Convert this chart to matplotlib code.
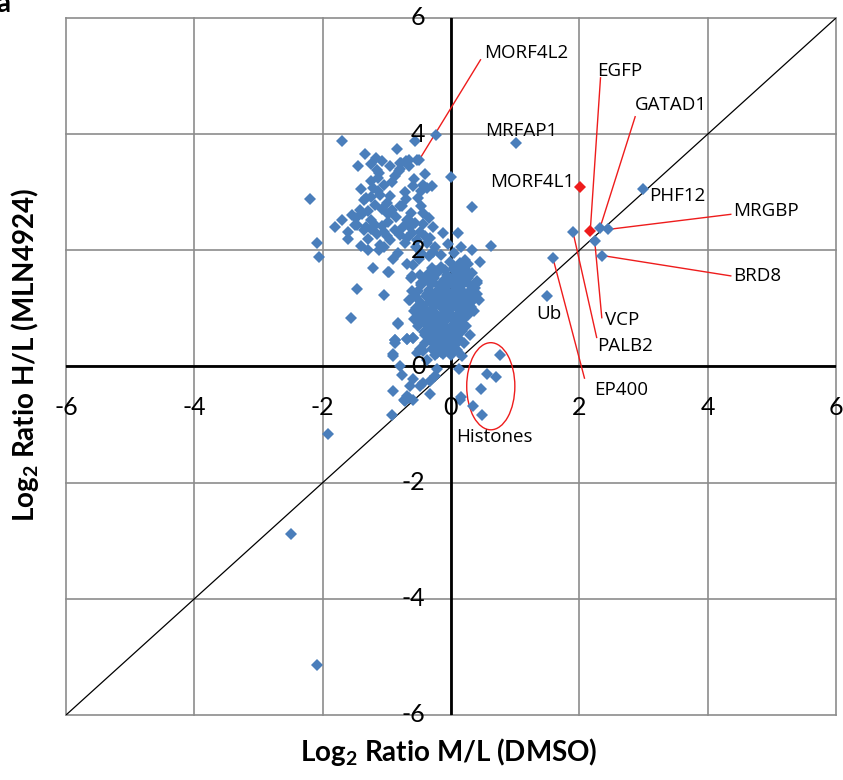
import matplotlib.pyplot as plt
from matplotlib.patches import Ellipse

plt.rcParams['mathtext.default'] = 'regular'

# blue proteins: log2 M/L (DMSO), log2 H/L (MLN4924)
blue_x = [
    # upper-left cloud
    -1.70, -2.20, -1.34, -1.17, -1.08, -1.45, -1.16, -1.12, -1.13, -0.84, -0.79, -0.65, -0.65, -0.81,
    -0.56, -0.53, -0.58, -0.59, -0.92, -1.41, -1.21, -1.13, -1.10, -1.32, -1.36, -0.95, -0.79, -1.08,
    -0.92, -0.98, -1.30, -1.39, -1.70, -1.81, -1.47, -1.24, -1.18, -0.69, -0.64, -1.33,
    -2.09, -2.06, -1.61, -1.50, -1.35, -1.24, -1.41, -1.29, -1.12, -1.11, -1.00, -0.95, -0.80, -1.05,
    -1.15, -1.22, -0.98, -1.46, -1.05, -1.56, -0.82, -0.63, -0.65, -0.58, -0.69, -0.59,
    -0.23, -0.50, -0.70, -0.78, -0.79, 0.00, 0.32, -0.43, -0.38, -0.46, -0.77, -0.46, -0.43, -0.66,
    -0.56, -0.43, -0.28, 0.11, -0.04, 0.32, 0.62, -0.28, -0.60, -0.68, -0.53, -0.38, -0.32, -0.02,
    0.22, 0.27, 0.45, 0.32, 0.40, 0.41, 0.43, -0.96, -0.64, -0.87, -0.69, -0.59, -0.61, -0.46,
    0.14, 0.24, 0.40, 0.35, 0.24, 0.19, -0.82, -0.90,
    -1.25, -1.05, -0.88, -0.72, -0.70, -0.52, -1.00, -1.19, -1.42, -1.55, -0.85, -0.75, -0.98, -1.08,
    -0.88, -0.48, -0.40, -0.72, -0.55, -0.47, -0.82, -0.90, -0.35, -0.15, 0.05, -0.50, -1.60, -1.30,
    -1.48, -1.25, -0.62, -0.35, -0.95, -1.25, -0.40, -0.30, -1.05, -0.25, 0.15, -0.12,
    # dense core
    -0.30, -0.16, 0.04, 0.15, -0.36, -0.21, -0.06, 0.09, 0.20, -0.41, -0.26, -0.11, 0.01, 0.13, 0.26,
    -0.46, -0.31, -0.19, -0.04, 0.07, 0.19, 0.31, -0.51, -0.34, -0.23, -0.09, 0.03, 0.16, 0.28,
    -0.55, -0.39, -0.27, -0.14, -0.01, 0.11, 0.23, 0.33, -0.47, -0.33, -0.21, -0.07, 0.06, 0.18, 0.29,
    -0.54, -0.42, -0.29, -0.16, -0.03, 0.09, 0.21, 0.31, -0.49, -0.37, -0.22, -0.11, 0.02, 0.14, 0.26,
    -0.44, -0.31, -0.18, -0.06, 0.07, 0.19, -0.52, -0.38, -0.26, -0.13, 0.00, 0.11, 0.24,
    -0.42, -0.29, -0.17, -0.05, 0.08, 0.17, -0.35, -0.23, -0.10, 0.02, 0.12, -0.40, -0.27, -0.14,
    -0.02, 0.08, -0.30, -0.18, -0.07, 0.05, -0.25, -0.12, 0.00,
    -0.24, -0.09, 0.07, -0.28, -0.13, 0.00, 0.14, -0.37, -0.20, -0.02, 0.12, 0.24, -0.44, -0.26,
    -0.08, 0.05, 0.20, -0.36, -0.18, -0.04, 0.10, 0.22, -0.31, -0.15, 0.03, 0.15, -0.41, -0.24,
    -0.06, 0.09, -0.33, -0.19, -0.03, -0.22, -0.08, -0.15,
    0.38, 0.36, -0.58, -0.60, 0.30, -0.48, 0.20, 0.25, -0.48,
    # around the origin
    -0.69, -0.87, -0.59, 0.04, 0.09, -0.90, -0.79, -0.77, -0.91, -0.92, -0.74, -0.66, -0.53, -0.43,
    -0.38, -0.22, -0.12, -0.04, -0.87, -0.22, -0.25, -0.33, -0.43, -0.48, -0.59, -0.64, -0.69, -0.33,
    0.17, 0.13, 0.15, 0.14, -0.72, -0.59,
    # histones
    0.77, 0.56, 0.70, 0.47, 0.35, 0.48,
    # outliers
    -1.92, -2.50, -2.09, 1.01, 1.50, 1.59, 1.90, 2.24, 2.32, 2.45, 2.36, 3.00,
]
blue_y = [
    3.89, 2.89, 3.66, 3.59, 3.53, 3.45, 3.39, 3.33, 3.25, 3.75, 3.51, 3.55, 3.45, 3.36,
    3.89, 3.56, 3.22, 3.10, 3.17, 3.06, 3.08, 3.02, 2.96, 2.90, 2.87, 2.94, 2.77, 2.71,
    2.70, 2.62, 2.67, 2.62, 2.53, 2.41, 2.44, 2.53, 2.44, 2.53, 2.41, 2.41,
    2.13, 1.88, 2.31, 2.43, 2.35, 2.36, 2.08, 2.01, 2.00, 2.10, 2.25, 2.18, 2.27, 2.32,
    2.28, 1.69, 1.63, 1.33, 1.23, 0.83, 0.74, 1.53, 1.14, 0.82, 1.76, 1.74,
    3.99, 3.55, 3.53, 3.50, 3.40, 3.26, 2.75, 3.13, 3.08, 3.02, 2.77, 2.77, 2.65, 2.53,
    2.47, 2.46, 2.41, 2.29, 2.11, 2.01, 2.08, 1.97, 2.30, 2.22, 2.18, 2.13, 2.22, 1.80,
    1.84, 1.76, 1.80, 1.61, 1.44, 1.24, 1.15, 1.62, 1.15, 0.46, 0.48, 0.49, 1.55, 1.44,
    1.78, 1.67, 1.47, 1.15, 1.04, 0.81, 0.75, 0.18,
    3.20, 3.12, 3.28, 3.00, 2.88, 2.90, 2.82, 2.78, 2.70, 2.60, 2.58, 2.40, 2.48, 2.42,
    2.35, 2.32, 2.25, 2.12, 2.05, 1.95, 1.95, 1.85, 1.90, 1.92, 1.95, 1.85, 2.20, 2.20,
    2.55, 2.92, 2.65, 2.55, 3.45, 3.48, 3.32, 3.10, 2.05, 2.05, 2.05, 2.30,
    1.70, 1.72, 1.69, 1.71, 1.60, 1.62, 1.58, 1.61, 1.59, 1.50, 1.52, 1.49, 1.51, 1.48, 1.52,
    1.40, 1.42, 1.38, 1.41, 1.39, 1.42, 1.38, 1.30, 1.31, 1.29, 1.32, 1.28, 1.31, 1.29,
    1.20, 1.21, 1.19, 1.22, 1.18, 1.21, 1.19, 1.22, 1.10, 1.11, 1.09, 1.12, 1.08, 1.11, 1.09,
    1.00, 1.01, 0.99, 1.02, 0.98, 1.01, 0.99, 1.02, 0.90, 0.91, 0.89, 0.92, 0.88, 0.91, 0.89,
    0.80, 0.81, 0.79, 0.82, 0.78, 0.81, 0.70, 0.71, 0.69, 0.72, 0.68, 0.71, 0.69,
    0.60, 0.61, 0.59, 0.62, 0.58, 0.61, 0.50, 0.51, 0.49, 0.52, 0.48, 0.40, 0.41, 0.39,
    0.42, 0.38, 0.30, 0.31, 0.29, 0.32, 0.20, 0.21, 0.19,
    1.65, 1.66, 1.64, 1.45, 1.46, 1.44, 1.47, 1.25, 1.26, 1.24, 1.27, 1.25, 1.05, 1.06,
    1.04, 1.07, 1.05, 0.85, 0.86, 0.84, 0.87, 0.85, 0.65, 0.66, 0.64, 0.67, 0.55, 0.56,
    0.54, 0.57, 0.45, 0.46, 0.44, 0.35, 0.36, 0.25,
    1.35, 0.95, 0.95, 1.30, 0.55, 0.30, 0.40, 1.55, 1.58,
    0.48, 0.46, 0.49, 0.46, 0.29, 0.21, 0.01, -0.14, -0.42, -0.83, -0.57, -0.54, 0.24, 0.26,
    0.12, 0.24, 0.29, 0.35, 0.41, -0.05, -0.17, -0.25, -0.28, -0.34, -0.22, -0.34, -0.51, -0.48,
    0.18, -0.05, -0.53, -0.57, -0.60, -0.57,
    0.19, -0.13, -0.18, -0.38, -0.68, -0.83,
    -1.16, -2.89, -5.14, 3.84, 1.21, 1.86, 2.32, 2.16, 2.38, 2.36, 1.91, 3.05,
]

# red proteins
red_x = [2.01, 2.17]
red_y = [3.09, 2.33]

# labelled proteins: name, point, label position
label_names = ['MORF4L2', 'MRFAP1', 'MORF4L1', 'EGFP', 'GATAD1', 'PHF12', 'MRGBP', 'BRD8',
               'VCP', 'PALB2', 'EP400', 'Ub']
label_px = [-0.50, 1.01, 2.01, 2.17, 2.32, 3.00, 2.45, 2.36, 2.24, 1.90, 1.59, 1.50]
label_py = [3.55, 3.84, 3.09, 2.33, 2.38, 3.05, 2.36, 1.91, 2.16, 2.32, 1.86, 1.21]
label_tx = [0.52, 0.53, 1.93, 2.27, 2.86, 3.08, 4.40, 4.40, 2.40, 2.27, 2.23, 1.53]
label_ty = [5.40, 4.05, 3.17, 5.09, 4.50, 2.93, 2.68, 1.56, 0.80, 0.36, -0.41, 0.91]
label_line = [True, False, False, True, True, False, True, True, True, True, True, False]
line_ex = [0.46, None, None, 2.33, 2.87, None, 4.36, 4.36, 2.35, 2.27, 2.08, None]
line_ey = [5.28, None, None, 4.97, 4.30, None, 2.62, 1.56, 0.84, 0.50, -0.20, None]

ticks = [-6, -4, -2, 0, 2, 4, 6]

fig = plt.figure(figsize=(8.43, 7.8), dpi=100)
ax = fig.add_axes([66 / 843, 1 - 715 / 780, 770 / 843, 697 / 780])
ax.set_xlim(-6, 6)
ax.set_ylim(-6, 6)

grid_c = '#8c8c8c'
for t in ticks:
    ax.plot([t, t], [-6, 6], color=grid_c, lw=1.2, zorder=1, clip_on=False)
    ax.plot([-6, 6], [t, t], color=grid_c, lw=1.2, zorder=1, clip_on=False)
for s in ax.spines.values():
    s.set_visible(False)
ax.set_xticks([])
ax.set_yticks([])

ax.axhline(0, color='black', lw=2.0, zorder=2)
ax.axvline(0, color='black', lw=2.0, zorder=2)
ax.plot([-6, 6], [-6, 6], color='black', lw=0.9, zorder=2)

ax.plot(blue_x, blue_y, 'D', color='#4a7ebb', markersize=6.5, markeredgewidth=0, zorder=4)
ax.plot(red_x, red_y, 'D', color='#ee1c1c', markersize=6.5, markeredgewidth=0, zorder=5)

for i, name in enumerate(label_names):
    if label_line[i]:
        ax.plot([line_ex[i], label_px[i]], [line_ey[i], label_py[i]], color='#ee1c1c', lw=1.0, zorder=3)
    ha = 'left'
    if name == 'MORF4L1':
        ha = 'right'
    if name == 'Ub':
        ha = 'center'
    ax.text(label_tx[i], label_ty[i], name, ha=ha, va='center', fontsize=13.5,
            family='Open Sans', zorder=6)

ax.add_patch(Ellipse((0.62, -0.34), 0.75, 1.50, fill=False, edgecolor='#ee1c1c', lw=1.0, zorder=3))
ax.text(0.68, -1.22, 'Histones', ha='center', va='center', fontsize=13.5, family='Open Sans')

# tick labels at the crossing axes
for t in ticks:
    ax.text(t, -0.70, str(t), ha='center', va='center', fontsize=18,
            family='Lato', clip_on=False, zorder=6)
    ax.text(-0.40, t, str(t), ha='right', va='center', fontsize=18,
            family='Lato', clip_on=False, zorder=6)

fig.text(449 / 843, 1 - 752 / 780, r'Log$_2$ Ratio M/L (DMSO)', ha='center', va='center',
         fontsize=20, fontweight='bold', family='Lato')
fig.text(25 / 843, 1 - 355 / 780, r'Log$_2$ Ratio H/L (MLN4924)', ha='center', va='center',
         fontsize=20, fontweight='bold', family='Lato', rotation=90)
fig.text(-0.004, 0.995, 'a', ha='left', va='center', fontsize=20, fontweight='bold', family='Lato')

plt.savefig('out.png', dpi=100)
